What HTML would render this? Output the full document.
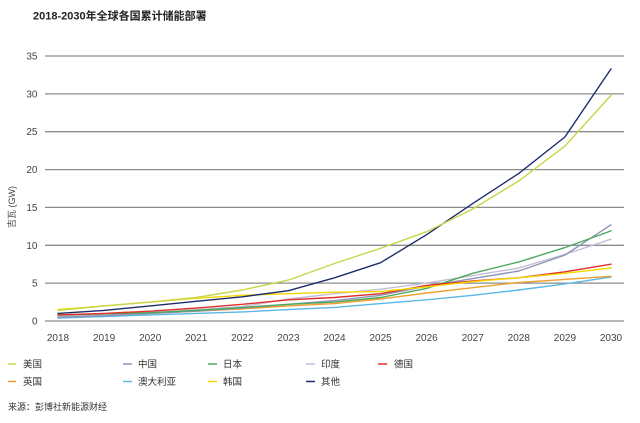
<!DOCTYPE html>
<html>
<head>
<meta charset="utf-8">
<style>
  html,body{margin:0;padding:0;background:#fff;}
  body{width:640px;height:423px;overflow:hidden;position:relative;}
  svg{position:absolute;left:0;top:0;}
  text{font-family:"Liberation Sans","Noto Sans CJK SC",sans-serif;}
</style>
</head>
<body>
<svg width="640" height="423" viewBox="0 0 640 423" xmlns="http://www.w3.org/2000/svg">
  <text x="33" y="19.5" font-size="11" font-weight="bold" fill="#222">2018-2030年全球各国累计储能部署</text>

  <!-- gridlines -->
  <g stroke="#8c8c8c" stroke-width="1.3">
    <line x1="45" y1="56" x2="624" y2="56"/>
    <line x1="45" y1="93.9" x2="624" y2="93.9"/>
    <line x1="45" y1="131.7" x2="624" y2="131.7"/>
    <line x1="45" y1="169.6" x2="624" y2="169.6"/>
    <line x1="45" y1="207.4" x2="624" y2="207.4"/>
    <line x1="45" y1="245.3" x2="624" y2="245.3"/>
    <line x1="45" y1="283.1" x2="624" y2="283.1"/>
    <line x1="45" y1="321" x2="624" y2="321"/>
  </g>

  <!-- y tick labels -->
  <g font-size="10" fill="#444" text-anchor="end">
    <text x="37.5" y="59.5">35</text>
    <text x="37.5" y="97.4">30</text>
    <text x="37.5" y="135.2">25</text>
    <text x="37.5" y="173.1">20</text>
    <text x="37.5" y="210.9">15</text>
    <text x="37.5" y="248.8">10</text>
    <text x="37.5" y="286.6">5</text>
    <text x="37.5" y="324.5">0</text>
  </g>

  <text transform="translate(15,207) rotate(-90)" font-size="9" fill="#444" text-anchor="middle">吉瓦 (GW)</text>

  <!-- x tick labels -->
  <g font-size="10" fill="#444" text-anchor="middle">
    <text x="58" y="341">2018</text>
    <text x="104.1" y="341">2019</text>
    <text x="150.2" y="341">2020</text>
    <text x="196.2" y="341">2021</text>
    <text x="242.3" y="341">2022</text>
    <text x="288.4" y="341">2023</text>
    <text x="334.5" y="341">2024</text>
    <text x="380.6" y="341">2025</text>
    <text x="426.6" y="341">2026</text>
    <text x="472.7" y="341">2027</text>
    <text x="518.8" y="341">2028</text>
    <text x="564.9" y="341">2029</text>
    <text x="611" y="341">2030</text>
  </g>

  <!-- series -->
  <g fill="none" stroke-width="1.4" stroke-linejoin="round" stroke-linecap="round">
    <!-- Australia -->
    <polyline stroke="#5cb8e6" points="58,318 104.1,316.5 150.2,314.9 196.2,313.4 242.3,311.9 288.4,309.6 334.5,307.4 380.6,303.6 426.6,299.8 472.7,295.3 518.8,290 564.9,283.9 611,277.1"/>
    <!-- UK -->
    <polyline stroke="#f0a030" points="58,315.7 104.1,314.9 150.2,313.4 196.2,311.2 242.3,308.9 288.4,305.9 334.5,303.6 380.6,299 426.6,293 472.7,287.7 518.8,282.4 564.9,279.4 611,276.3"/>
    <!-- India -->
    <polyline stroke="#c4bed6" points="58,316.5 104.1,314.9 150.2,312.7 196.2,309.6 242.3,306.6 288.4,299 334.5,293.7 380.6,289.2 426.6,283.1 472.7,275.6 518.8,268 564.9,254.4 611,239.2"/>
    <!-- China -->
    <polyline stroke="#8d95b8" points="58,317.2 104.1,315.7 150.2,313.4 196.2,311.2 242.3,308.1 288.4,304.3 334.5,300.6 380.6,295.3 426.6,286.2 472.7,278.6 518.8,271 564.9,255.1 611,224.8"/>
    <!-- Japan -->
    <polyline stroke="#4ea860" points="58,314.9 104.1,313.8 150.2,312.7 196.2,310.4 242.3,307.4 288.4,304.3 334.5,302.1 380.6,297.5 426.6,288.4 472.7,273.3 518.8,261.9 564.9,247.6 611,230.9"/>
    <!-- Germany -->
    <polyline stroke="#e0302a" points="58,314.9 104.1,313.4 150.2,311.2 196.2,308.1 242.3,304.3 288.4,299.8 334.5,297.5 380.6,293.7 426.6,285.4 472.7,280.9 518.8,277.8 564.9,271.8 611,264.2"/>
    <!-- Korea -->
    <polyline stroke="#f5d800" points="58,309.6 104.1,305.9 150.2,302.1 196.2,298.3 242.3,295.3 288.4,293.7 334.5,292.2 380.6,291.5 426.6,286.9 472.7,281.6 518.8,277.8 564.9,273.3 611,268"/>
    <!-- Other -->
    <polyline stroke="#1f2d6b" points="58,313.4 104.1,310.4 150.2,305.9 196.2,301.3 242.3,296.8 288.4,290.7 334.5,277.8 380.6,262.7 426.6,234.7 472.7,203.6 518.8,173.4 564.9,137 611,68.9"/>
    <!-- US -->
    <polyline stroke="#c8d64a" points="58,310.4 104.1,305.9 150.2,302.1 196.2,297.5 242.3,290 288.4,280.1 334.5,263.5 380.6,248.3 426.6,231.7 472.7,209 518.8,180.9 564.9,146.1 611,95.4"/>
  </g>

  <!-- legend -->
  <g stroke-width="1.5">
    <line x1="8" y1="364" x2="16" y2="364" stroke="#c8d64a"/>
    <line x1="123" y1="364" x2="132" y2="364" stroke="#8d95b8"/>
    <line x1="208" y1="364" x2="217" y2="364" stroke="#4ea860"/>
    <line x1="306" y1="364" x2="315" y2="364" stroke="#c4bed6"/>
    <line x1="378" y1="364" x2="387" y2="364" stroke="#e0302a"/>
    <line x1="8" y1="381.5" x2="16" y2="381.5" stroke="#f0a030"/>
    <line x1="123" y1="381.5" x2="132" y2="381.5" stroke="#5cb8e6"/>
    <line x1="208" y1="381.5" x2="217" y2="381.5" stroke="#f5d800"/>
    <line x1="306" y1="381.5" x2="315" y2="381.5" stroke="#1f2d6b"/>
  </g>
  <g font-size="9.5" fill="#333">
    <text x="23" y="367.5">美国</text>
    <text x="138" y="367.5">中国</text>
    <text x="223" y="367.5">日本</text>
    <text x="321" y="367.5">印度</text>
    <text x="394" y="367.5">德国</text>
    <text x="23" y="385">英国</text>
    <text x="138" y="385">澳大利亚</text>
    <text x="223" y="385">韩国</text>
    <text x="321" y="385">其他</text>
  </g>

  <text x="8" y="410" font-size="9" fill="#333">来源：彭博社新能源财经</text>
</svg>
</body>
</html>
